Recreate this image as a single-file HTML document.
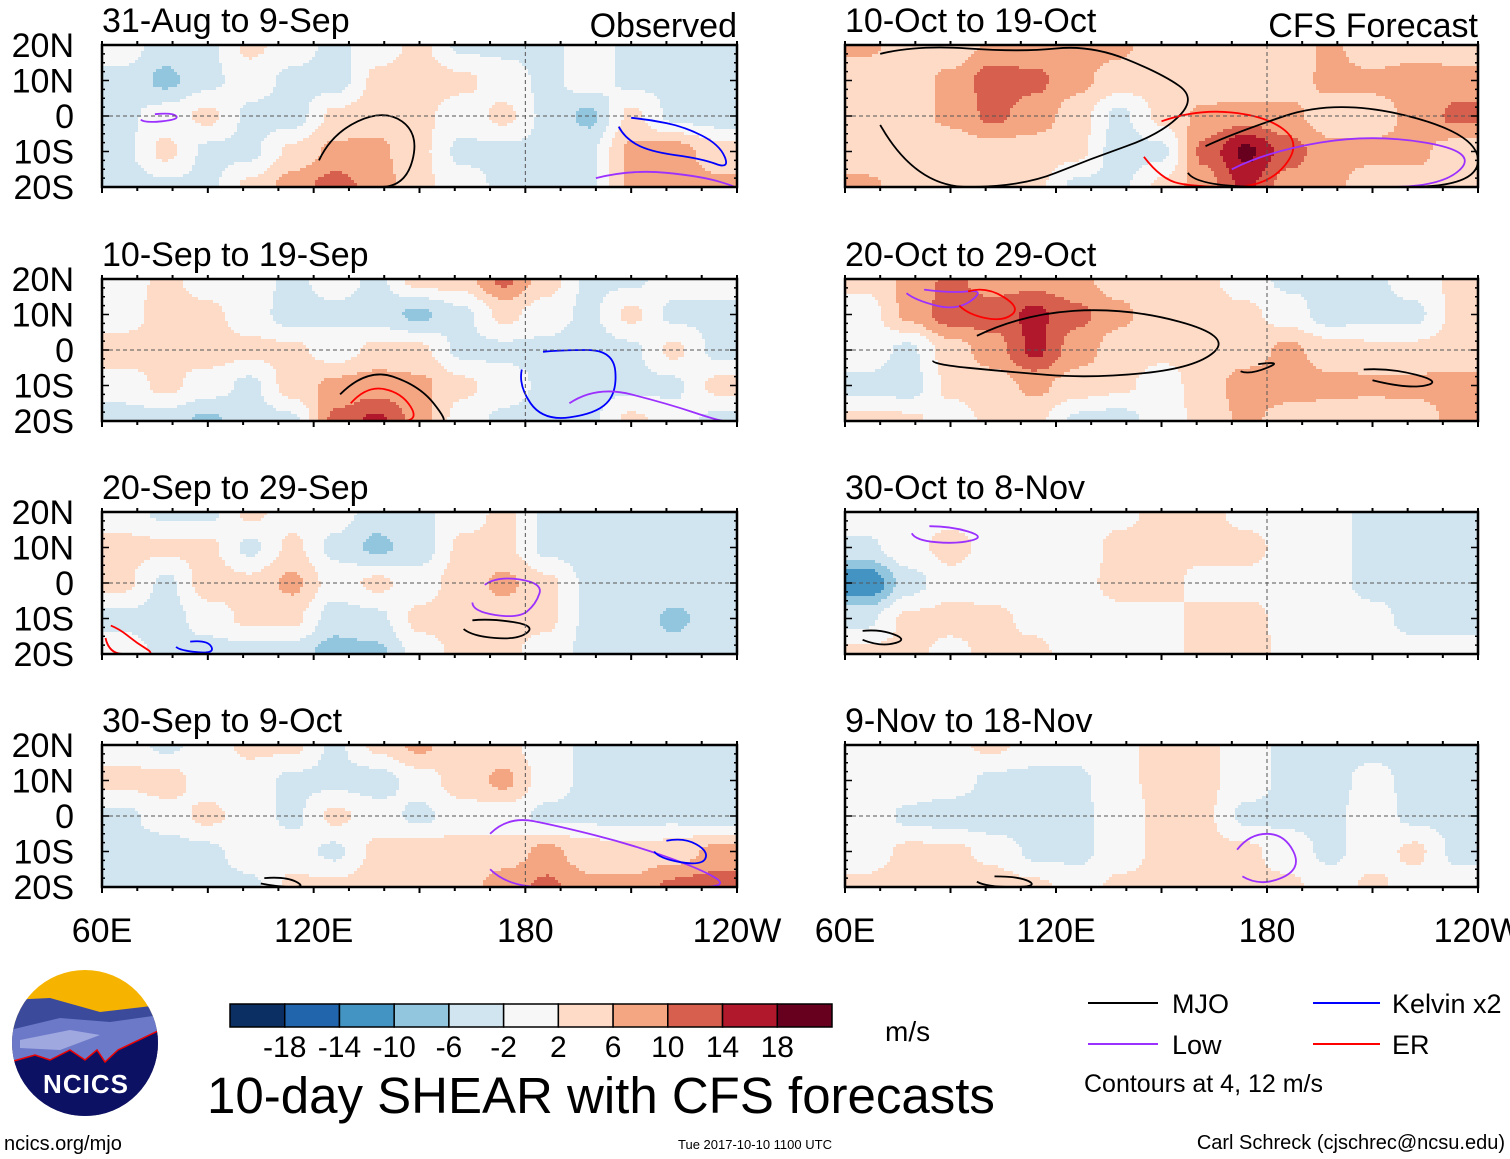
<!DOCTYPE html>
<html><head><meta charset="utf-8">
<style>
html,body{margin:0;padding:0;background:#fff;}
body{width:1510px;height:1159px;position:relative;overflow:hidden;font-family:"Liberation Sans",Arial,sans-serif;}
svg{position:absolute;left:0;top:0;}
</style></head>
<body>
<svg id="chart" width="1510" height="1159" viewBox="0 0 1510 1159" xmlns="http://www.w3.org/2000/svg">
</svg>
<script>
// ---- data ----
const lonCenters = [66,78,90,102,114,126,138,150,162,174,186,198,210,222,234];
const latCenters = [20,10,0,-10,-20];
const panelTitles = ["31-Aug to 9-Sep","10-Sep to 19-Sep","20-Sep to 29-Sep","30-Sep to 9-Oct","10-Oct to 19-Oct","20-Oct to 29-Oct","30-Oct to 8-Nov","9-Nov to 18-Nov"];
const levels = [-18,-14,-10,-6,-2,2,6,10,14,18];
const levelColors = ["#0b2f63","#2166ac","#4393c3","#92c5de","#d1e5f0","#f7f7f7","#fddbc7","#f4a582","#d6604d","#b2182b","#67001f"];
const field0 = [[0,-4,-3,3,0,-3,0,3,-3,-3,-3,0,-3,-4,-3],[-3,-7,-3,0,-3,-4,3,4,3,0,-3,0,-3,-3,-3],[-3,0,3,-3,-4,3,4,3,0,3,-3,-7,3,-3,-4],[-3,3,-3,-3,3,7,7,3,-3,-3,-3,-3,7,8,4],[-4,-3,-3,3,8,12,8,3,0,-3,-3,-3,7,8,7]];
const field1 = [[0,3,0,0,-3,0,-3,4,4,11,4,-3,-3,0,0],[0,4,3,0,-4,-3,-4,-7,-3,3,0,-3,3,-3,-3],[4,3,4,3,3,0,3,3,-3,-3,-3,-4,-3,3,-3],[0,3,0,-3,4,7,8,7,3,0,-3,-3,-3,-3,3],[-4,-4,-7,-4,-3,11,15,8,0,-3,-4,-3,3,0,-3]];
const field2 = [[0,-3,-3,3,0,0,-4,-3,0,3,-3,-4,-3,-3,-3],[3,3,3,-3,3,-3,-7,-4,3,3,-3,-4,-3,-3,-3],[3,-3,4,3,7,0,3,0,4,7,3,-3,-3,-3,-4],[-3,-4,0,3,3,-4,-3,3,4,4,3,-3,-3,-7,-4],[0,-3,-4,-4,-4,-8,-7,0,3,3,0,-3,-3,-4,-3]];
const field3 = [[0,-3,0,3,3,-3,3,7,3,3,0,-3,-3,-3,-3],[3,4,0,0,-3,-3,-4,0,4,7,0,-3,-3,-4,-4],[-3,0,3,0,-3,3,0,-3,0,0,-3,-3,-3,-3,-4],[-3,-4,-3,0,0,-3,3,4,4,4,7,4,3,4,7],[-3,-3,-4,-3,3,3,4,3,4,8,11,7,7,11,12]];
const field4 = [[7,4,3,7,7,8,7,3,4,3,3,7,3,4,3],[3,4,7,12,11,7,4,3,3,3,4,7,7,8,8],[3,4,7,11,8,4,-3,3,7,8,7,4,4,7,11],[3,3,3,4,4,3,-4,-3,11,19,12,7,7,7,4],[7,4,3,3,3,-3,-3,3,8,15,8,7,4,4,4]];
const field5 = [[3,7,11,8,8,7,4,3,3,0,-3,-3,-3,0,3],[0,7,12,12,15,11,7,3,3,3,0,-4,-3,-3,3],[0,-3,4,8,15,8,4,3,3,4,7,4,3,3,4],[-3,-4,3,4,7,4,3,0,4,8,8,7,7,7,7],[3,3,0,3,3,-3,-4,0,3,7,4,4,3,4,7]];
const field6 = [[1,1,1,1,0,0,1,3,3,1,0,-1,-3,-3,-3],[-3,1,3,1,0,0,3,3,3,3,1,-1,-3,-3,-3],[-14,-4,1,0,-1,1,3,3,1,1,1,-1,-3,-3,-5],[-3,3,3,3,1,0,1,1,3,3,1,0,-1,-3,-3],[3,3,1,3,3,0,1,1,3,4,1,1,0,-1,-1]];
const field7 = [[0,0,1,3,0,0,1,3,3,0,-3,-3,-3,-3,-3],[1,1,0,-3,-3,-3,1,3,3,0,-3,-3,-1,-3,-5],[1,-3,-4,-5,-5,-3,0,3,3,-3,-3,-3,0,-3,-3],[0,3,3,1,-3,-3,0,3,3,3,0,-3,0,3,-3],[3,4,4,4,3,0,3,3,3,3,3,0,3,0,0]];
const fields = [field0,field1,field2,field3,field4,field5,field6,field7];
const contourPanel = [0,0,0,0,1,1,1,1,2,2,2,2,3,3,3,4,4,4,4,5,5,5,5,5,6,6,7,7];
const contourColor = ["#9b30ff","#000","#0000ff","#9b30ff","#ff0000","#000","#0000ff","#9b30ff","#9b30ff","#000","#ff0000","#0000ff","#9b30ff","#0000ff","#000","#000","#ff0000","#9b30ff","#000","#000","#9b30ff","#ff0000","#000","#000","#9b30ff","#000","#9b30ff","#000"];
const contourLon = [[70,80,82,72,70],[118,125,140,150,146,132,118],[205,215,225,235,238,230,215,208,205],[190,210,230,240,238,220,200,190],[126,135,145,150,140,128,126],[120,135,150,158,155,140,125,120],[180,190,205,206,200,185,178,180],[185,200,220,235,238,215,200,185],[165,172,185,183,178,165,165],[160,170,183,178,165,160],[60,65,70,75,70,62,60],[80,90,92,82,80],[165,175,190,210,230,238,220,195,175,165],[215,225,232,230,218,215],[100,112,118,110,100],[60,80,110,130,150,160,150,130,110,80,60],[140,160,180,190,180,160,150,140],[160,180,210,240,230,200,170,160],[155,170,200,240,240,200,160,155],[85,110,140,170,160,130,105,85,85],[75,90,100,92,80,75],[90,100,110,105,95,90],[170,185,175,170],[200,215,230,220,200],[78,90,100,92,80,78],[60,70,78,70,60],[168,175,185,190,178,168],[95,110,115,100,95]];
const contourLat = [[0,1,-1,-2,0],[-20,-5,2,-5,-20,-20,-20],[0,-1,-3,-8,-15,-12,-10,-6,0],[-20,-15,-17,-20,-20,-20,-20,-20],[-20,-10,-12,-20,-20,-20,-20],[-20,-5,-10,-20,-20,-20,-20,-20],[-1,0,0,-12,-18,-20,-10,-1],[-20,-10,-15,-20,-20,-20,-20,-20],[-3,2,0,-6,-10,-8,-3],[-11,-10,-12,-16,-15,-11],[-11,-13,-17,-20,-20,-20,-11],[-17,-16,-20,-19,-17],[-10,0,-3,-8,-15,-20,-20,-20,-20,-10],[-8,-6,-10,-14,-12,-8],[-18,-17,-20,-20,-18],[15,20,18,20,12,5,-5,-12,-20,-20,15],[-5,2,0,-8,-20,-20,-18,-5],[-20,-10,-5,-10,-20,-20,-20,-20],[-12,-5,5,-5,-20,-20,-20,-12],[-2,10,12,4,-5,-8,-6,-4,-2],[18,16,17,11,14,18],[15,18,12,8,10,15],[-5,-3,-7,-5],[-6,-5,-9,-11,-6],[16,16,13,11,12,16],[-14,-13,-16,-18,-14],[-14,-5,-5,-15,-20,-14],[-17,-17,-20,-20,-17]];

// ---- layout ----
const svg = document.getElementById('chart');
const NS = "http://www.w3.org/2000/svg";
function mk(tag, attrs, parent){const e=document.createElementNS(NS,tag);for(const k in attrs)e.setAttribute(k,attrs[k]);(parent||svg).appendChild(e);return e;}
const panelX = [102,845];
const panelW = [635,633];
const panelY = [45,279,512,745];
const panelH = 142;
function colorIdx(v){let i=0;while(i<levels.length&&v>=levels[i])i++;return i;}
function sstep(t){return t*t*(3-2*t);}
function sample(f,lon,lat){
  let cx=(lon-lonCenters[0])/12, cy=(latCenters[0]-lat)/10;
  cx=Math.max(0,Math.min(lonCenters.length-1,cx)); cy=Math.max(0,Math.min(latCenters.length-1,cy));
  const i=Math.min(Math.floor(cx),lonCenters.length-2), j=Math.min(Math.floor(cy),latCenters.length-2);
  const tx=sstep(cx-i), ty=sstep(cy-j);
  const a=f[j][i]*(1-tx)+f[j][i+1]*tx, b=f[j+1][i]*(1-tx)+f[j+1][i+1]*tx;
  return a*(1-ty)+b*ty;
}
function smoothPath(P){
  let d='M'+((P[0][0]+P[1][0])/2).toFixed(1)+','+((P[0][1]+P[1][1])/2).toFixed(1);
  for(let i=1;i<P.length-1;i++){
    const mx=(P[i][0]+P[i+1][0])/2,my=(P[i][1]+P[i+1][1])/2;
    d+=' Q'+P[i][0].toFixed(1)+','+P[i][1].toFixed(1)+' '+mx.toFixed(1)+','+my.toFixed(1);
  }
  return d;
}

fields.forEach((f,p)=>{
  const col=p<4?0:1,row=p%4;
  const x0=panelX[col],y0=panelY[row],w=panelW[col];
  const xs=lon=>x0+(lon-60)/180*w;
  const ys=lat=>y0+(20-lat)/40*panelH;
  const g=mk('g',{});
  
  
  const cid='clip'+p;
  const cp=mk('clipPath',{id:cid},g);mk('rect',{x:x0,y:y0,width:w,height:panelH},cp);
  mk('rect',{x:x0,y:y0,width:w,height:panelH,fill:'#f7f7f7'},g);
  const cg=mk('g',{'clip-path':'url(#'+cid+')','shape-rendering':'crispEdges'},g);
  const step=3;
  for(let py=0;py<panelH;py+=step){
    const lat=20-(py+step/2)/panelH*40;
    let runStart=0,runIdx=-1;
    const flush=(end)=>{
      if(runIdx>=0&&runIdx!==5){
        const c=mk('rect',{x:x0+runStart,y:y0+py,width:end-runStart,height:step,fill:levelColors[runIdx]},cg);
        
        
      }
    };
    for(let px=0;px<w;px+=step){
      const lon=60+(px+step/2)/w*180;
      const idx=colorIdx(sample(f,lon,lat));
      if(idx!==runIdx){flush(px);runStart=px;runIdx=idx;}
    }
    flush(w);
  }
  contourPanel.forEach((cpn,k)=>{
    if(cpn!==p)return;
    const P=contourLon[k].map((lo,i)=>[xs(lo),ys(contourLat[k][i])]);
    const pl=mk('path',{d:smoothPath(P),fill:'none',stroke:contourColor[k],'stroke-width':1.8,'stroke-linejoin':'round','shape-rendering':'auto'},cg);
    
    
  });
  mk('line',{x1:x0,y1:ys(0),x2:x0+w,y2:ys(0),stroke:'#555','stroke-dasharray':'4,3','stroke-width':1},g);
  mk('line',{x1:xs(180),y1:y0,x2:xs(180),y2:y0+panelH,stroke:'#555','stroke-dasharray':'4,3','stroke-width':1},g);
  mk('rect',{x:x0,y:y0,width:w,height:panelH,fill:'none',stroke:'#000','stroke-width':2.5},g);
  for(let lon=60;lon<=240;lon+=10){
    const x=xs(lon);
    mk('line',{x1:x,y1:y0+panelH,x2:x,y2:y0+panelH+(lon%30==0?6:4),stroke:'#000','stroke-width':2},g);
    mk('line',{x1:x,y1:y0,x2:x,y2:y0-4,stroke:'#000','stroke-width':2},g);
  }
  for(let lat=-20;lat<=20;lat+=2.5){
    const y=ys(lat),L=(lat%10==0)?7:3;
    mk('line',{x1:x0,y1:y,x2:x0+L,y2:y,stroke:'#000','stroke-width':1.5},g);
    mk('line',{x1:x0+w,y1:y,x2:x0+w-L,y2:y,stroke:'#000','stroke-width':1.5},g);
  }
  const t=mk('text',{x:x0,y:y0-13,'font-size':34,fill:'#000'},g);t.textContent=panelTitles[p];
  
  if(col==0){
    ['20N','10N','0','10S','20S'].forEach((s,i)=>{
      const lt=mk('text',{x:74,y:ys(20-10*i)+12,'font-size':34,'text-anchor':'end'},g);lt.textContent=s;
      
    });
  }
});
['Observed','CFS Forecast'].forEach((s,i)=>{const t=mk('text',{x:[737,1478][i],y:37,'font-size':34,'text-anchor':'end'});t.textContent=s;
});
[0,1].forEach(col=>{['60E','120E','180','120W'].forEach((s,i)=>{
  const t=mk('text',{x:panelX[col]+i*panelW[col]/3,y:942,'font-size':34,'text-anchor':'middle'});t.textContent=s;
  
});});
const cbx=230,cbw=602/11;
levelColors.forEach((c,i)=>{const r=mk('rect',{x:cbx+i*cbw,y:1004,width:cbw,height:23,fill:c,stroke:'#000','stroke-width':1.5});
});
levels.forEach((v,i)=>{const t=mk('text',{x:cbx+(i+1)*cbw,y:1057,'font-size':30,'text-anchor':'middle'});t.textContent=String(v);
});
</script>
<svg width="1510" height="1159" style="pointer-events:none">
<text x="885" y="1041" font-size="28" font-family="Liberation Sans">m/s</text>
<text x="207" y="1113" font-size="51" font-family="Liberation Sans">10-day SHEAR with CFS forecasts</text>
<text x="4" y="1150" font-size="20" font-family="Liberation Sans">ncics.org/mjo</text>
<text x="755" y="1149" font-size="13" text-anchor="middle" font-family="Liberation Sans">Tue 2017-10-10 1100 UTC</text>
<text x="1505" y="1149" font-size="20" text-anchor="end" font-family="Liberation Sans">Carl Schreck (cjschrec@ncsu.edu)</text>
<g font-family="Liberation Sans" font-size="27">
<line x1="1088" y1="1003" x2="1158" y2="1003" stroke="#000" stroke-width="2"/><text x="1172" y="1013">MJO</text>
<line x1="1088" y1="1044" x2="1158" y2="1044" stroke="#9b30ff" stroke-width="2"/><text x="1172" y="1054">Low</text>
<line x1="1313" y1="1003" x2="1380" y2="1003" stroke="#0000ff" stroke-width="2"/><text x="1392" y="1013">Kelvin x2</text>
<line x1="1313" y1="1044" x2="1380" y2="1044" stroke="#ff0000" stroke-width="2"/><text x="1392" y="1054">ER</text>
<text x="1084" y="1092" font-size="25">Contours at 4, 12 m/s</text>
</g>
<g>
<clipPath id="lc"><circle cx="85" cy="1043" r="73"/></clipPath>
<g clip-path="url(#lc)">
<rect x="10" y="968" width="150" height="150" fill="#f6b400"/>
<path d="M10 1000 L50 998 L100 1012 L160 1005 L160 1118 L10 1118Z" fill="#3b4a9a"/>
<path d="M10 1030 L60 1018 L110 1022 L160 1015 L160 1118 L10 1118Z" fill="#6b79c8"/>
<path d="M20 1040 L70 1030 L100 1035 L60 1050 L20 1048Z" fill="#a0a8e0"/>
<path d="M10 1062 L35 1055 L50 1060 L70 1050 L85 1060 L97 1050 L105 1062 L118 1050 L160 1030 L160 1118 L10 1118Z" fill="#0d1163" stroke="#e00" stroke-width="1.5"/>
</g>
<text x="86" y="1093" font-size="26" font-weight="bold" fill="#fff" text-anchor="middle" font-family="Liberation Sans" letter-spacing="1">NCICS</text>
</g>
</svg>
</body></html>
